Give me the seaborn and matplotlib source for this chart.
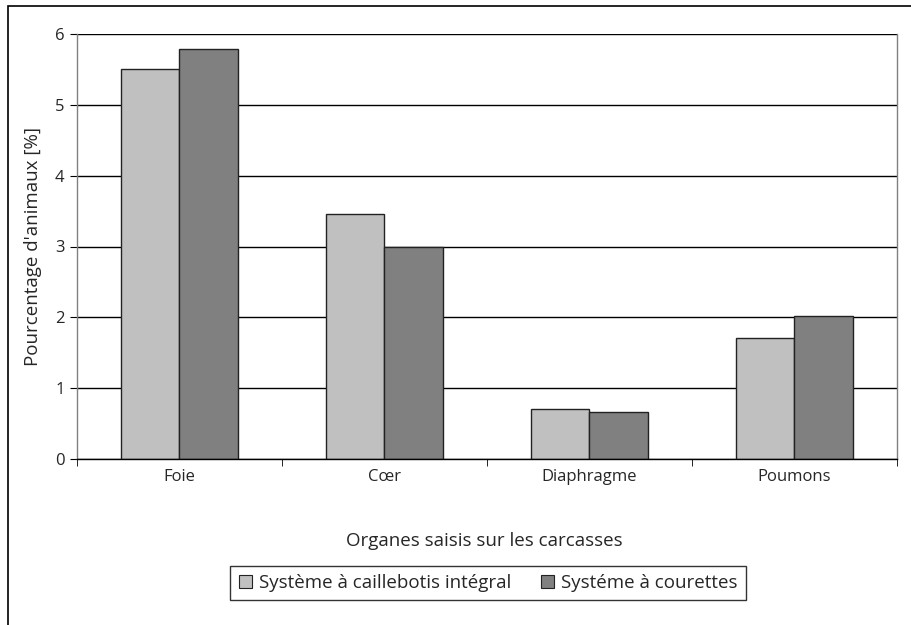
import pandas as pd
import numpy as np
from matplotlib import pyplot as plt
from matplotlib.patches import Rectangle, Patch
import seaborn as sns

# data
organes = ["Foie", "Cœr", "Diaphragme", "Poumons"]
caillebotis = [5.50, 3.46, 0.71, 1.71]
courettes = [5.79, 3.00, 0.67, 2.02]
series = ["Système à caillebotis intégral", "Systéme à courettes"]
couleurs = ["#c0c0c0", "#808080"]

df = pd.DataFrame({
    "organe": organes * 2,
    "valeur": caillebotis + courettes,
    "systeme": [series[0]] * 4 + [series[1]] * 4,
})

sns.set_style("white")
plt.rcParams["font.family"] = ["Open Sans", "DejaVu Sans"]
plt.rcParams["font.size"] = 12

fig = plt.figure(figsize=(9.12, 6.25), dpi=100)
ax = fig.add_axes([77 / 912, 1 - 459 / 625, 820 / 912, 425 / 625])

sns.barplot(data=df, x="organe", y="valeur", hue="systeme", order=organes,
            hue_order=series, palette=couleurs, width=0.575, gap=0,
            edgecolor="#222222", linewidth=1, saturation=1, legend=False, ax=ax)

ax.set_ylim(0, 6)
ax.set_xlim(-0.5, 3.5)
ax.set_yticks(range(7))
ax.yaxis.grid(True, color="black", linewidth=1)
ax.set_axisbelow(True)
for s in ["left", "right"]:
    ax.spines[s].set_color("#808080")
    ax.spines[s].set_linewidth(1)
ax.spines["top"].set_visible(False)
ax.spines["bottom"].set_color("black")
ax.spines["bottom"].set_linewidth(1)

ax.tick_params(axis="y", left=True, length=5, color="black", pad=4, labelsize=12)
ax.tick_params(axis="x", bottom=False, pad=4, labelsize=12)
ax.set_xticks([-0.5, 0.5, 1.5, 2.5, 3.5], minor=True)
ax.tick_params(axis="x", which="minor", bottom=True, length=5, color="black")

ax.set_ylabel("Pourcentage d'animaux [%]", labelpad=9, fontsize=13.5)
ax.set_xlabel("")
fig.text(484 / 912, 1 - 541 / 625, "Organes saisis sur les carcasses",
         ha="center", va="center", fontsize=13.5)

handles = [Patch(facecolor=c, edgecolor="#222222", linewidth=0.8) for c in couleurs]
fig.legend(handles, series, loc="center", bbox_to_anchor=(488 / 912, 1 - 583 / 625),
           ncol=2, frameon=True, fancybox=False, edgecolor="black",
           handlelength=0.7, handleheight=0.7, handletextpad=0.35,
           columnspacing=1.6, borderpad=0.45, fontsize=13.5)

# outer frame
fig.patches.append(Rectangle((8 / 912, -0.1), 1.2, 1.1 - 6 / 625, transform=fig.transFigure,
                             fill=False, edgecolor="black", linewidth=1.2))

fig.savefig("out.png", dpi=100)
